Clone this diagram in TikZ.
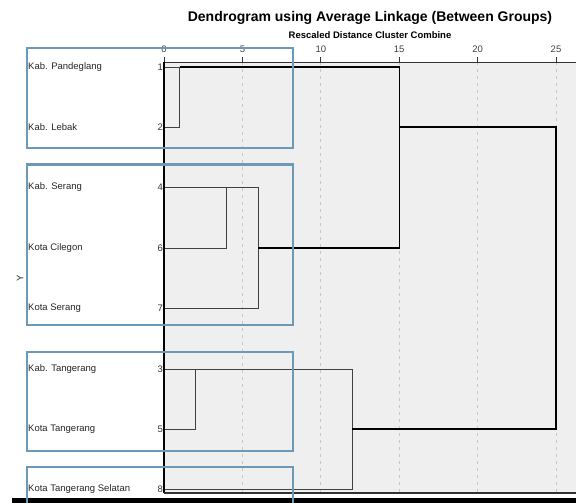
\documentclass[tikz,border=0pt]{standalone}
\usepackage{fontspec}
\setmainfont{Liberation Sans}
\definecolor{boxblue}{HTML}{6C9AB6}
\definecolor{plotgray}{HTML}{EFEFEF}
\newcommand{\dgx}[1]{164+15.68*#1}
\tikzset{
  leaf/.style={line width=0.8pt, draw=black!75},
  link/.style={line width=1.3pt, draw=black},
  groupbox/.style={draw=boxblue, line width=2.6pt},
  gridline/.style={draw=black!22, dash pattern=on 3pt off 4pt, line width=0.8pt},
  rowlabel/.style={anchor=west, inner sep=0pt, text=black!85, font=\fontsize{9.5}{11}\selectfont},
  rownum/.style={anchor=east, inner sep=1pt, text=black!80, font=\fontsize{9.5}{11}\selectfont},
  ticklabel/.style={inner sep=0pt, text=black!75, font=\fontsize{9.5}{11}\selectfont},
}
\begin{document}
\begin{tikzpicture}[x=1pt, y=-1pt]
  \useasboundingbox (0,0) rectangle (576,503);

  % Plot area
  \fill[plotgray] (164,62) rectangle (576,492);
  \foreach \d in {5,10,...,25}
    \draw[gridline] ({\dgx{\d}},62) -- ({\dgx{\d}},492);

  % Titles
  \node[font=\bfseries\fontsize{14}{16}\selectfont] (title) at (370,18)
    {Dendrogram using Average Linkage (Between Groups)};
  \node[font=\bfseries\fontsize{9.5}{11}\selectfont] (subtitle) at (370,35.5)
    {Rescaled Distance Cluster Combine};

  % Scale on top
  \foreach \d in {0,5,...,25}{
    \node[ticklabel] (tick\d) at ({\dgx{\d}},49) {\d};
    \draw[black!80, line width=0.8pt] ({\dgx{\d}},62) -- ++(0,-5);
  }
  \draw[black!80, line width=0.9pt] (164,62) -- (576,62);

  % Cases
  \foreach \n/\lab/\y in {1/Kab. Pandeglang/67, 2/Kab. Lebak/127,
      4/Kab. Serang/187.5, 6/Kota Cilegon/248, 7/Kota Serang/308,
      3/Kab. Tangerang/369, 5/Kota Tangerang/429, 8/Kota Tangerang Selatan/489}{
    \node[rowlabel] (lab\n) at (28,\y) {\lab};
    \node[rownum] (n\n) at (164,\y) {\n};
  }
  \node[rotate=90, text=black!80, font=\fontsize{9.5}{11}\selectfont] (ylab) at (20,278) {Y};

  % Pandeglang, Lebak
  \coordinate (j12) at ({\dgx{1}},67);
  \coordinate (j12b) at ({\dgx{1}},127);
  \draw[leaf] (n1.east) -- (j12) -- (j12b) -- (n2.east);

  % Serang, Cilegon, Kota Serang
  \coordinate (j46) at ({\dgx{4}},187.5);
  \coordinate (j46b) at ({\dgx{4}},248);
  \draw[leaf] (n4.east) -- (j46) -- (j46b) -- (n6.east);
  \coordinate (j467) at ({\dgx{6}},187.5);
  \coordinate (j467b) at ({\dgx{6}},308);
  \draw[leaf] (j46) -- (j467) -- (j467b) -- (n7.east);

  % Tangerang
  \coordinate (j35) at ({\dgx{2}},369);
  \coordinate (j35b) at ({\dgx{2}},429);
  \draw[leaf] (n3.east) -- (j35) -- (j35b) -- (n5.east);
  \coordinate (j358) at ({\dgx{12}},369);
  \coordinate (j358b) at ({\dgx{12}},489);
  \draw[leaf] (j35) -- (j358) -- (j358b) -- (n8.east);

  % Upper joins
  \coordinate (j15) at ({\dgx{15}},67);
  \coordinate (j15b) at ({\dgx{15}},248);
  \draw[link] (j12) -- (j15) -- (j15b) -- (j467 |- j15b);
  \coordinate (j25) at ({\dgx{25}},127);
  \coordinate (j25b) at ({\dgx{25}},429);
  \draw[link] (j15 |- j12b) -- (j25) -- (j25b) -- (j358 |- j25b);

  % Frame
  \draw[black, line width=1.3pt] (164,62) -- (164,493);
  \draw[black!80, line width=1.2pt] (164,493) -- (576,493);
  \fill[black] (12,498) rectangle (576,503);

  % Groups
  \draw[groupbox] (27,48) rectangle (293,148);
  \draw[groupbox] (27,164.5) rectangle (293,325);
  \draw[groupbox] (27,352) rectangle (293,451);
  \draw[groupbox] (27,510) -- (27,467) -- (293,467) -- (293,510);
\end{tikzpicture}
\end{document}
